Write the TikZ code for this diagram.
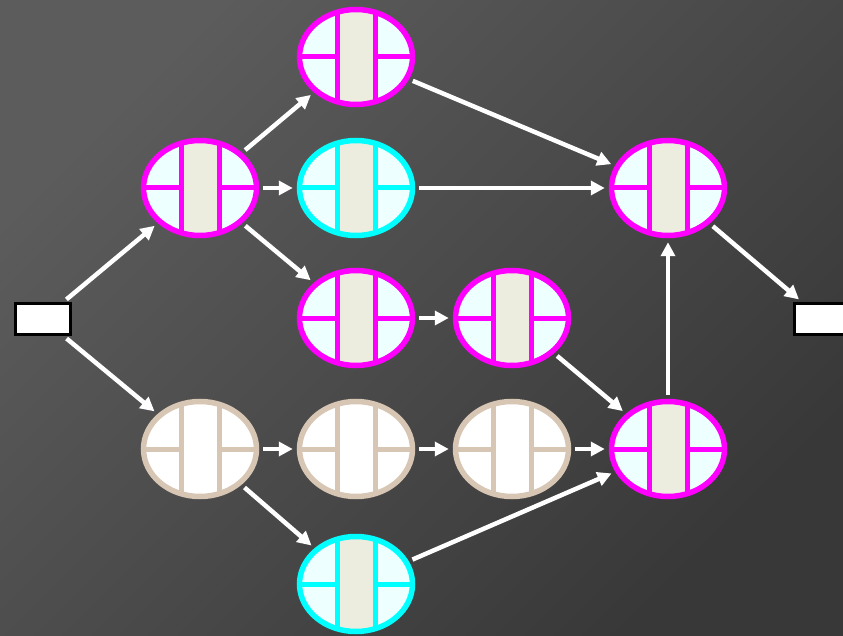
\documentclass[tikz,border=0pt]{standalone}
\usetikzlibrary{shapes.geometric,arrows.meta}
\definecolor{bgA}{HTML}{5C5C5C}
\definecolor{bgB}{HTML}{383838}
\definecolor{mag}{HTML}{FF00FF}
\definecolor{cyn}{HTML}{00FFFF}
\definecolor{tan}{HTML}{D8C6B4}
\definecolor{icefill}{HTML}{EEFFFF}
\definecolor{band}{HTML}{ECECDF}
\tikzset{
  jobnode/.style n args={3}{ellipse, draw=#1, fill=#2, line width=5.5pt,
    minimum width=113pt, minimum height=95pt, inner sep=0pt,
    path picture={
      \draw[line width=5pt,#1] ([xshift=-70pt]path picture bounding box.center) -- ([xshift=70pt]path picture bounding box.center);
      \fill[#3] ([xshift=-19pt,yshift=-60pt]path picture bounding box.center) rectangle ([xshift=19pt,yshift=60pt]path picture bounding box.center);
      \draw[line width=5pt,#1] ([xshift=-19pt,yshift=-60pt]path picture bounding box.center) -- ([xshift=-19pt,yshift=60pt]path picture bounding box.center);
      \draw[line width=5pt,#1] ([xshift=19pt,yshift=-60pt]path picture bounding box.center) -- ([xshift=19pt,yshift=60pt]path picture bounding box.center);
    }},
  mnode/.style={jobnode={mag}{icefill}{band}},
  cnode/.style={jobnode={cyn}{icefill}{band}},
  tnode/.style={jobnode={tan}{white}{white}},
  endbox/.style={rectangle, draw=black, fill=white, line width=3pt,
    minimum width=55pt, minimum height=31pt, inner sep=0pt},
  arr/.style={draw=white, line width=4.5pt, -{Triangle[length=14pt,width=14pt]},
    shorten <=4pt, shorten >=4pt}
}
\begin{document}
\begin{tikzpicture}[x=1pt,y=-1pt]
\useasboundingbox (0,0) rectangle (843,636);
\clip (0,0) rectangle (843,636);
\shade[top color=bgA, bottom color=bgB, shading angle=45] (0,0) rectangle (843,636);
\node[endbox] (L) at (43,319) {};
\node[endbox] (R) at (822,319) {};
\node[mnode] (A) at (200,188) {};
\node[mnode] (T) at (356,57) {};
\node[cnode] (M) at (356,188) {};
\node[mnode] (C) at (356,318) {};
\node[mnode] (D) at (512,318) {};
\node[mnode] (RT) at (668,188) {};
\node[mnode] (RB) at (668,449) {};
\node[tnode] (B1) at (200,449) {};
\node[tnode] (B2) at (356,449) {};
\node[tnode] (B3) at (512,449) {};
\node[cnode] (BC) at (356,584) {};
\draw[arr] (L) -- (A);
\draw[arr] (L) -- (B1);
\draw[arr] (A) -- (T);
\draw[arr] (A) -- (M);
\draw[arr] (A) -- (C);
\draw[arr] (T) -- (RT);
\draw[arr] (M) -- (RT);
\draw[arr] (C) -- (D);
\draw[arr] (D) -- (RB);
\draw[arr] (RB) -- (RT);
\draw[arr] (RT) -- (R);
\draw[arr] (B1) -- (B2);
\draw[arr] (B2) -- (B3);
\draw[arr] (B3) -- (RB);
\draw[arr] (B1) -- (BC);
\draw[arr] (BC) -- (RB);
\end{tikzpicture}
\end{document}
